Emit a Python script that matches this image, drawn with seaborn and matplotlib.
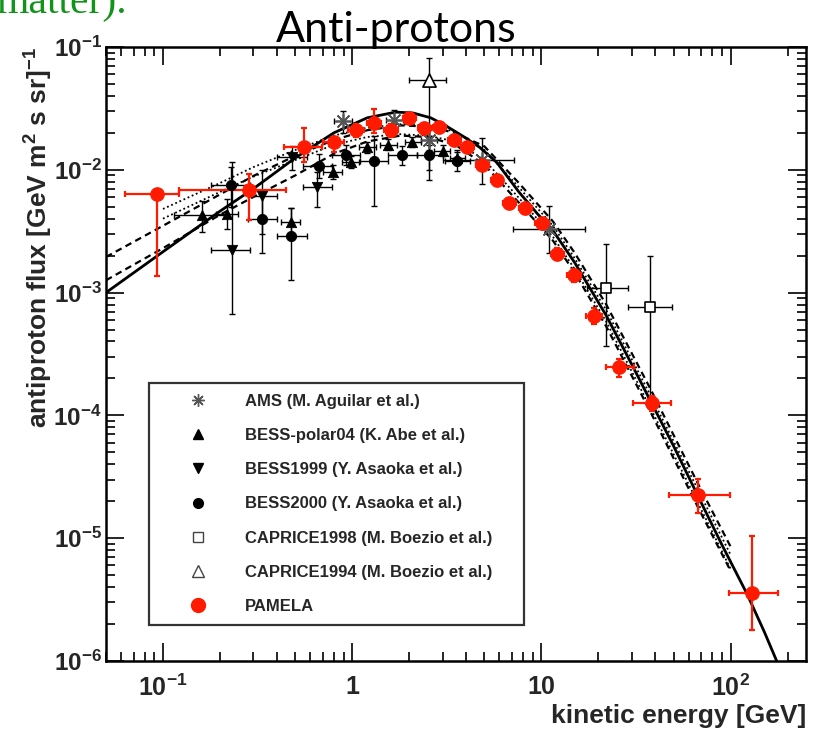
import numpy as np
import pandas as pd
import matplotlib
matplotlib.use("Agg")
import matplotlib.pyplot as plt
from matplotlib.lines import Line2D
from matplotlib.ticker import FixedLocator, FixedFormatter, LogLocator, NullFormatter
import seaborn as sns

# ---------------- data ----------------
# PAMELA
pam_x = [0.093, 0.285, 0.557, 0.80, 1.05, 1.31, 1.61, 2.0, 2.4, 2.88, 3.46, 4.06, 4.87, 5.84,
         6.77, 8.22, 10.1, 12.1, 14.9, 19.0, 25.8, 38.2, 67.0, 129.0]
pam_y = [6.3e-3, 6.8e-3, 1.52e-2, 1.67e-2, 2.09e-2, 2.39e-2, 2.09e-2, 2.62e-2, 2.18e-2, 2.22e-2,
         1.74e-2, 1.52e-2, 1.09e-2, 8.2e-3, 5.4e-3, 4.9e-3, 3.66e-3, 2.08e-3, 1.38e-3, 6.5e-4,
         2.46e-4, 1.25e-4, 2.24e-5, 3.57e-6]
pam_xlo = [0.063, 0.122, 0.437, 0.70, 0.95, 1.20, 1.48, 1.85, 2.22, 2.66, 3.2, 3.75, 4.5, 5.4,
           6.3, 7.6, 9.3, 11.2, 13.7, 17.2, 22.0, 30.3, 47.0, 98.0]
pam_xhi = [0.122, 0.447, 0.694, 0.91, 1.16, 1.42, 1.75, 2.16, 2.6, 3.12, 3.75, 4.4, 5.3, 6.3,
           7.3, 8.9, 11.0, 13.1, 16.2, 21.0, 31.0, 48.3, 98.6, 177.0]
pam_ylo = [1.37e-3, 3.87e-3, 1.15e-2, 1.4e-2, 1.85e-2, 1.98e-2, 1.85e-2, 2.35e-2, 1.97e-2, 2.0e-2,
           1.58e-2, 1.38e-2, 9.9e-3, 7.4e-3, 4.9e-3, 4.4e-3, 3.3e-3, 1.85e-3, 1.22e-3, 5.5e-4,
           2.05e-4, 1.08e-4, 1.6e-5, 1.8e-6]
pam_yhi = [6.3e-3, 9.3e-3, 2.2e-2, 1.84e-2, 2.35e-2, 3.1e-2, 2.35e-2, 2.9e-2, 2.4e-2, 2.45e-2,
           1.92e-2, 1.68e-2, 1.2e-2, 9.0e-3, 5.9e-3, 5.4e-3, 4.05e-3, 2.32e-3, 1.55e-3, 7.5e-4,
           2.9e-4, 1.45e-4, 3.05e-5, 1.05e-5]

# AMS
ams_x = [0.89, 1.67, 2.55, 4.87, 11.0]
ams_y = [2.5e-2, 2.55e-2, 1.75e-2, 1.2e-2, 3.3e-3]
ams_xlo = [0.80, 1.5, 2.3, 3.0, 7.1]
ams_xhi = [1.0, 1.85, 2.8, 7.2, 17.0]
ams_ylo = [2.0e-2, 2.1e-2, 1.45e-2, 7.7e-3, 2.1e-3]
ams_yhi = [3.0e-2, 3.05e-2, 2.1e-2, 1.8e-2, 5.1e-3]

# BESS-polar04
bp_x = [0.160, 0.219, 0.474, 0.787, 0.98, 1.2, 1.55, 2.08, 3.0, 3.6]
bp_y = [4.25e-3, 4.4e-3, 3.75e-3, 9.6e-3, 1.16e-2, 1.53e-2, 1.6e-2, 1.67e-2, 1.43e-2, 1.25e-2]
bp_xlo = [0.115, 0.19, 0.42, 0.70, 0.88, 1.08, 1.4, 1.9, 2.7, 3.3]
bp_xhi = [0.22, 0.25, 0.53, 0.88, 1.08, 1.33, 1.72, 2.3, 3.3, 3.95]
bp_ylo = [3.1e-3, 3.3e-3, 2.9e-3, 8.4e-3, 1.03e-2, 1.38e-2, 1.45e-2, 1.52e-2, 1.3e-2, 1.12e-2]
bp_yhi = [5.6e-3, 5.8e-3, 4.9e-3, 1.1e-2, 1.3e-2, 1.7e-2, 1.77e-2, 1.84e-2, 1.58e-2, 1.4e-2]

# BESS1999
b99_x = [0.231, 0.335, 0.483, 0.655]
b99_y = [2.23e-3, 6.1e-3, 1.27e-2, 7.2e-3]
b99_xlo = [0.18, 0.28, 0.40, 0.55]
b99_xhi = [0.29, 0.40, 0.58, 0.78]
b99_ylo = [6.7e-4, 3.0e-3, 1.0e-2, 5.0e-3]
b99_yhi = [1.16e-2, 1.0e-2, 1.55e-2, 9.6e-3]

# BESS2000
b00_x = [0.228, 0.335, 0.474, 0.664, 0.926, 1.31, 1.84, 2.55, 3.6]
b00_y = [7.5e-3, 3.95e-3, 2.89e-3, 1.07e-2, 1.31e-2, 1.19e-2, 1.31e-2, 1.31e-2, 1.19e-2]
b00_xlo = [0.18, 0.28, 0.40, 0.55, 0.78, 1.1, 1.55, 2.2, 3.1]
b00_xhi = [0.29, 0.40, 0.58, 0.78, 1.1, 1.55, 2.2, 3.0, 4.2]
b00_ylo = [5.0e-3, 2.1e-3, 1.26e-3, 8.5e-3, 1.1e-2, 5.1e-3, 1.1e-2, 1.0e-2, 9.8e-3]
b00_yhi = [1.05e-2, 6.6e-3, 4.9e-3, 1.35e-2, 1.6e-2, 1.9e-2, 1.55e-2, 1.6e-2, 1.45e-2]

# CAPRICE1998
c98_x = [22.0, 37.3]
c98_y = [1.09e-3, 7.6e-4]
c98_xlo = [17.5, 28.8]
c98_xhi = [28.8, 48.7]
c98_ylo = [3.7e-4, 1.4e-4]
c98_yhi = [2.47e-3, 1.97e-3]

# CAPRICE1994
c94_x = [2.55]
c94_y = [5.36e-2]
c94_xlo = [2.0]
c94_xhi = [3.14]
c94_ylo = [8.2e-3]
c94_yhi = [8.1e-2]

# model curves
sol_x = [0.05, 0.1, 0.2, 0.3, 0.5, 0.8, 1.2, 1.7, 2.1, 2.6, 3.1, 3.8, 4.7, 5.8, 7.6, 9.5, 11.5,
         15, 22, 30, 38, 50, 67, 90, 121.6, 150, 175]
sol_y = [1.0e-3, 2.15e-3, 4.6e-3, 7.0e-3, 1.25e-2, 2.0e-2, 2.65e-2, 2.95e-2, 2.9e-2, 2.65e-2,
         2.3e-2, 1.9e-2, 1.53e-2, 1.15e-2, 6.6e-3, 4.4e-3, 3.2e-3, 1.75e-3, 6.5e-4, 2.6e-4,
         1.28e-4, 5.6e-5, 2.22e-5, 8.8e-6, 3.55e-6, 1.75e-6, 1.0e-6]
band_x = [0.05, 0.1, 0.2, 0.3, 0.5, 0.8, 1.2, 1.8, 2.5, 3.5, 5.0, 7.6, 11.5, 15, 22, 38, 67, 100]
dash_up = [1.95e-3, 3.5e-3, 6.3e-3, 8.9e-3, 1.3e-2, 1.75e-2, 2.1e-2, 2.3e-2, 2.25e-2, 2.0e-2,
           1.55e-2, 7.8e-3, 3.8e-3, 2.1e-3, 8.0e-4, 1.6e-4, 2.8e-5, 8.5e-6]
dash_lo = [1.26e-3, 2.3e-3, 4.3e-3, 6.0e-3, 9.0e-3, 1.35e-2, 1.7e-2, 1.9e-2, 1.85e-2, 1.6e-2,
           1.1e-2, 5.4e-3, 2.65e-3, 1.45e-3, 5.3e-4, 1.04e-4, 1.8e-5, 5.4e-6]
dot_x = [0.1, 0.2, 0.3, 0.5, 0.8, 1.2, 1.8, 2.5, 3.5, 5.0, 7.6, 11.5, 15, 22, 38, 67, 100]
dot_up = [4.8e-3, 7.8e-3, 1.05e-2, 1.45e-2, 1.9e-2, 2.2e-2, 2.35e-2, 2.3e-2, 2.05e-2, 1.45e-2,
          7.2e-3, 3.5e-3, 1.9e-3, 7.2e-4, 1.42e-4, 2.5e-5, 7.3e-6]
dot_lo = [4.0e-3, 6.6e-3, 8.8e-3, 1.2e-2, 1.6e-2, 1.85e-2, 1.95e-2, 1.9e-2, 1.7e-2, 1.2e-2,
          5.9e-3, 2.85e-3, 1.55e-3, 5.8e-4, 1.12e-4, 1.95e-5, 5.6e-6]

# ticks / text
x_ticks = [0.1, 1, 10, 100]
x_ticklabels = [r"$\mathbf{10^{-1}}$", "1", "10", r"$\mathbf{10^{2}}$"]
y_ticks = [1e-6, 1e-5, 1e-4, 1e-3, 1e-2, 1e-1]
y_ticklabels = [r"$\mathbf{10^{-6}}$", r"$\mathbf{10^{-5}}$", r"$\mathbf{10^{-4}}$",
                r"$\mathbf{10^{-3}}$", r"$\mathbf{10^{-2}}$", r"$\mathbf{10^{-1}}$"]
legend_labels = ["AMS (M. Aguilar et al.)", "BESS-polar04 (K. Abe et al.)",
                 "BESS1999 (Y. Asaoka et al.)", "BESS2000 (Y. Asaoka et al.)",
                 "CAPRICE1998 (M. Boezio et al.)", "CAPRICE1994 (M. Boezio et al.)", "PAMELA"]

# ---------------- style ----------------
sns.set_theme(style="ticks")
plt.rcParams["font.family"] = ["Liberation Sans", "DejaVu Sans"]
plt.rcParams["font.weight"] = "bold"
plt.rcParams["mathtext.fontset"] = "custom"
plt.rcParams["mathtext.bf"] = "Liberation Sans:bold"
plt.rcParams["mathtext.rm"] = "Liberation Sans:bold"
plt.rcParams["mathtext.it"] = "Liberation Sans:bold"

W, H = 825, 736
fig = plt.figure(figsize=(W / 100, H / 100), dpi=100)
fig.patch.set_facecolor("white")
L, R, T, B = 106, 806, 47, 661
ax = fig.add_axes([L / W, 1 - B / H, (R - L) / W, (B - T) / H])
ax.set_facecolor("white")
ax.set_xscale("log")
ax.set_yscale("log")
ax.set_xlim(0.05, 250)
ax.set_ylim(1e-6, 1e-1)

# curves
lw_curve = 1.6
sns.lineplot(x=sol_x, y=sol_y, ax=ax, color="black", lw=2.0, sort=False, estimator=None)
sns.lineplot(x=band_x, y=dash_up, ax=ax, color="black", lw=lw_curve, sort=False, estimator=None,
             linestyle=(0, (3, 2)))
sns.lineplot(x=band_x, y=dash_lo, ax=ax, color="black", lw=lw_curve, sort=False, estimator=None,
             linestyle=(0, (3, 2)))
sns.lineplot(x=dot_x, y=dot_up, ax=ax, color="black", lw=1.3, sort=False, estimator=None,
             linestyle=(0, (1, 1.5)))
sns.lineplot(x=dot_x, y=dot_lo, ax=ax, color="black", lw=1.3, sort=False, estimator=None,
             linestyle=(0, (1, 1.5)))


def errs(x, y, xlo, xhi, ylo, yhi, color, lw=1.0):
    x = np.array(x); y = np.array(y)
    xe = [x - np.array(xlo), np.array(xhi) - x]
    ye = [y - np.array(ylo), np.array(yhi) - y]
    ax.errorbar(x, y, xerr=xe, yerr=ye, fmt="none", ecolor=color, elinewidth=lw,
                capsize=2, capthick=lw, zorder=3)


errs(b00_x, b00_y, b00_xlo, b00_xhi, b00_ylo, b00_yhi, "black")
errs(bp_x, bp_y, bp_xlo, bp_xhi, bp_ylo, bp_yhi, "black")
errs(b99_x, b99_y, b99_xlo, b99_xhi, b99_ylo, b99_yhi, "black")
errs(ams_x, ams_y, ams_xlo, ams_xhi, ams_ylo, ams_yhi, "black")
errs(c98_x, c98_y, c98_xlo, c98_xhi, c98_ylo, c98_yhi, "black")
errs(c94_x, c94_y, c94_xlo, c94_xhi, c94_ylo, c94_yhi, "black")
errs(pam_x, pam_y, pam_xlo, pam_xhi, pam_ylo, pam_yhi, "#ff1a00", lw=1.6)

red = "#ff1a00"
sns.scatterplot(x=b00_x, y=b00_y, ax=ax, marker="o", s=55, color="black", edgecolor="black", zorder=4)
sns.scatterplot(x=bp_x, y=bp_y, ax=ax, marker="^", s=55, color="black", edgecolor="black", zorder=4)
sns.scatterplot(x=b99_x, y=b99_y, ax=ax, marker="v", s=55, color="black", edgecolor="black", zorder=4)
sns.scatterplot(x=ams_x, y=ams_y, ax=ax, marker=(8, 2, 0), s=120, color="#555555",
                edgecolor="#555555", linewidth=1.2, zorder=4)
sns.scatterplot(x=c98_x, y=c98_y, ax=ax, marker="s", s=60, color="white", edgecolor="black",
                linewidth=1.2, zorder=4)
sns.scatterplot(x=c94_x, y=c94_y, ax=ax, marker="^", s=90, color="white", edgecolor="black",
                linewidth=1.2, zorder=4)
sns.scatterplot(x=pam_x, y=pam_y, ax=ax, marker="o", s=95, color=red, edgecolor=red, zorder=5)

# axes / ticks
for sp in ax.spines.values():
    sp.set_visible(True)
    sp.set_linewidth(1.8)
    sp.set_color("black")
ax.xaxis.set_major_locator(FixedLocator(x_ticks))
ax.xaxis.set_major_formatter(FixedFormatter(x_ticklabels))
ax.yaxis.set_major_locator(FixedLocator(y_ticks))
ax.yaxis.set_major_formatter(FixedFormatter(y_ticklabels))
ax.xaxis.set_minor_locator(LogLocator(base=10, subs=np.arange(2, 10), numticks=20))
ax.yaxis.set_minor_locator(LogLocator(base=10, subs=np.arange(2, 10), numticks=20))
ax.xaxis.set_minor_formatter(NullFormatter())
ax.yaxis.set_minor_formatter(NullFormatter())
ax.tick_params(which="both", direction="in", top=True, right=True, color="black", width=1.2)
ax.tick_params(which="major", length=13)
ax.tick_params(which="minor", length=6.5)
ax.tick_params(axis="x", which="major", labelsize=18, pad=10)
ax.tick_params(axis="y", which="major", labelsize=17.5, pad=3)

ax.set_xlabel("kinetic energy [GeV]", fontsize=19, fontweight="bold", ha="right", x=1.0, labelpad=2)
ax.set_ylabel(r"antiproton flux [GeV m$^{2}$ s sr]$^{-1}$", fontsize=19, fontweight="bold",
              ha="right", y=1.0, labelpad=-1)

# legend
handles = [
    Line2D([], [], ls="none", marker=(8, 2, 0), ms=9, color="#555555", mew=1.0),
    Line2D([], [], ls="none", marker="^", ms=7, color="black"),
    Line2D([], [], ls="none", marker="v", ms=7, color="black"),
    Line2D([], [], ls="none", marker="o", ms=7, color="black"),
    Line2D([], [], ls="none", marker="s", ms=7, mfc="white", mec="#444444", mew=1.0),
    Line2D([], [], ls="none", marker="^", ms=8, mfc="white", mec="#444444", mew=1.0),
    Line2D([], [], ls="none", marker="o", ms=10, color=red),
]
ax_w, ax_h = R - L, B - T
lx0 = (149 - L) / ax_w
lx1 = (524 - L) / ax_w
ly_top = (B - 383) / ax_h
leg = ax.legend(handles, legend_labels, loc="upper left",
                bbox_to_anchor=(lx0, ly_top - 0.4, lx1 - lx0, 0.4), mode="expand",
                prop={"family": "Liberation Sans", "weight": "bold", "size": 12},
                frameon=True, fancybox=False, borderpad=0.65, labelspacing=1.15,
                handlelength=4.6, handletextpad=0.5, borderaxespad=0)
leg.get_frame().set_edgecolor("black")
leg.get_frame().set_linewidth(1.6)
leg.set_zorder(6)

# title and cut-off green text (cut at the top edge, as in the reference)
fig.text(396 / W, 1 - 41.7 / H, "Anti-protons", family="Lato", fontweight="normal",
         fontsize=31, ha="center", va="baseline", color="black")
fig.text(-4 / W, 1 - 13 / H, "matter).", family="Liberation Serif", fontweight="normal",
         fontsize=30, ha="left", va="baseline", color="#12931a")

fig.savefig("out.png", dpi=100, facecolor="white")
